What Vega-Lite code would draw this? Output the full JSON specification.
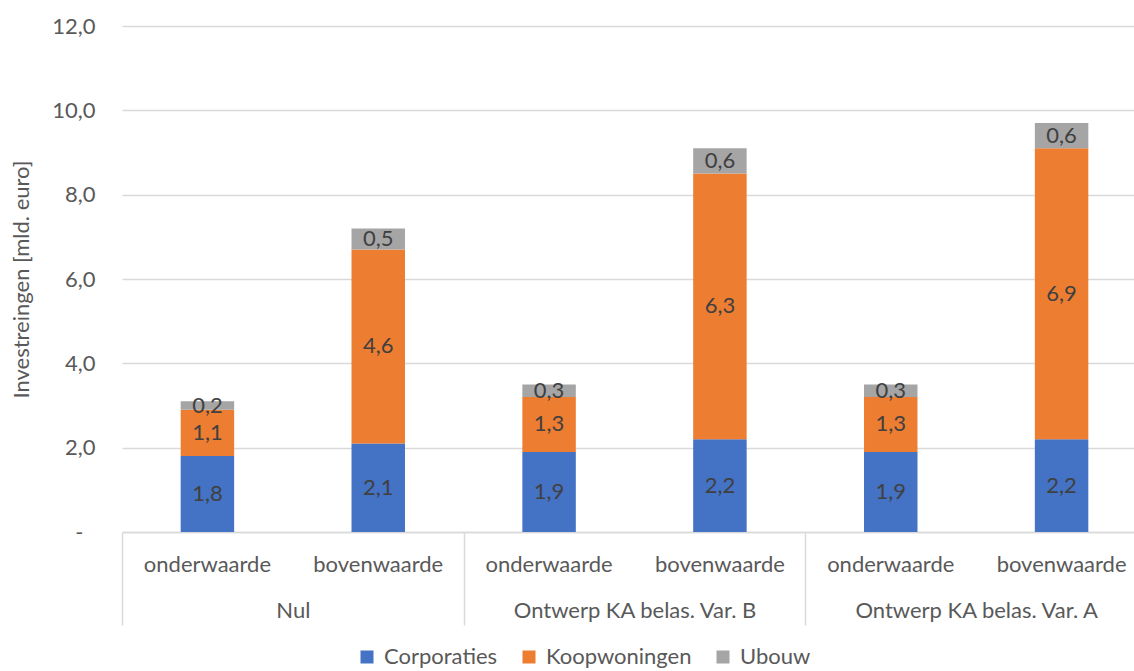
{
  "$schema": "https://vega.github.io/schema/vega-lite/v6.json",
  "autosize": {"type": "none"},
  "padding": {"left": 122, "top": 26, "right": 0, "bottom": 139},
  "width": 1012,
  "height": 506,
  "config": {
    "font": "Lato",
    "view": {"stroke": null},
    "axis": {"labelFont": "Lato", "titleFont": "Lato", "labelColor": "#595959", "titleColor": "#595959"}
  },
  "data": {
    "values": [
      {"scenario": "Nul", "waarde": "onderwaarde", "reeks": "Corporaties", "value": 1.8},
      {"scenario": "Nul", "waarde": "onderwaarde", "reeks": "Koopwoningen", "value": 1.1},
      {"scenario": "Nul", "waarde": "onderwaarde", "reeks": "Ubouw", "value": 0.2},
      {"scenario": "Nul", "waarde": "bovenwaarde", "reeks": "Corporaties", "value": 2.1},
      {"scenario": "Nul", "waarde": "bovenwaarde", "reeks": "Koopwoningen", "value": 4.6},
      {"scenario": "Nul", "waarde": "bovenwaarde", "reeks": "Ubouw", "value": 0.5},
      {"scenario": "Ontwerp KA belas. Var. B", "waarde": "onderwaarde", "reeks": "Corporaties", "value": 1.9},
      {"scenario": "Ontwerp KA belas. Var. B", "waarde": "onderwaarde", "reeks": "Koopwoningen", "value": 1.3},
      {"scenario": "Ontwerp KA belas. Var. B", "waarde": "onderwaarde", "reeks": "Ubouw", "value": 0.3},
      {"scenario": "Ontwerp KA belas. Var. B", "waarde": "bovenwaarde", "reeks": "Corporaties", "value": 2.2},
      {"scenario": "Ontwerp KA belas. Var. B", "waarde": "bovenwaarde", "reeks": "Koopwoningen", "value": 6.3},
      {"scenario": "Ontwerp KA belas. Var. B", "waarde": "bovenwaarde", "reeks": "Ubouw", "value": 0.6},
      {"scenario": "Ontwerp KA belas. Var. A", "waarde": "onderwaarde", "reeks": "Corporaties", "value": 1.9},
      {"scenario": "Ontwerp KA belas. Var. A", "waarde": "onderwaarde", "reeks": "Koopwoningen", "value": 1.3},
      {"scenario": "Ontwerp KA belas. Var. A", "waarde": "onderwaarde", "reeks": "Ubouw", "value": 0.3},
      {"scenario": "Ontwerp KA belas. Var. A", "waarde": "bovenwaarde", "reeks": "Corporaties", "value": 2.2},
      {"scenario": "Ontwerp KA belas. Var. A", "waarde": "bovenwaarde", "reeks": "Koopwoningen", "value": 6.9},
      {"scenario": "Ontwerp KA belas. Var. A", "waarde": "bovenwaarde", "reeks": "Ubouw", "value": 0.6}
    ]
  },
  "transform": [
    {"calculate": "datum.scenario + ' | ' + datum.waarde", "as": "bar"},
    {"stack": "value", "groupby": ["bar"], "sort": [{"field": "reeks", "order": "ascending"}], "as": ["v0", "v1"]},
    {"calculate": "(datum.v0 + datum.v1) / 2", "as": "mid"},
    {"calculate": "replace(format(datum.value, '.1f'), '.', ',')", "as": "label"}
  ],
  "layer": [
    {
      "layer": [
        {
          "mark": {"type": "bar"},
          "encoding": {
            "x": {
              "field": "bar", "type": "nominal", "sort": null,
              "scale": {"range": [0, 1025], "paddingInner": 0.687, "paddingOuter": 0.3435},
              "axis": {
                "title": null, "labelAngle": 0, "ticks": false,
                "domain": true, "domainColor": "#d9d9d9", "domainWidth": 1.5,
                "labelFontSize": 22, "labelPadding": 22, "labelLimit": 0,
                "labelExpr": "split(datum.label, ' | ')[1]"
              }
            },
            "y": {
              "field": "v0", "type": "quantitative",
              "scale": {"domain": [0, 12], "nice": false},
              "axis": {
                "title": "Investreingen [mld. euro]", "titleFontSize": 22, "titleFontWeight": "normal", "titlePadding": 18,
                "values": [0, 2, 4, 6, 8, 10, 12],
                "labelExpr": "datum.value === 0 ? '-' : replace(format(datum.value, '.1f'), '.', ',')",
                "labelFontSize": 22,
                "labelPadding": {"condition": {"test": "datum.value === 0", "value": 39}, "value": 27},
                "ticks": false, "domain": false,
                "grid": true, "gridColor": "#d9d9d9", "gridWidth": 1.5
              }
            },
            "y2": {"field": "v1"},
            "color": {
              "field": "reeks", "type": "nominal",
              "scale": {"domain": ["Corporaties", "Koopwoningen", "Ubouw"], "range": ["#4472C4", "#ED7D31", "#A5A5A5"]},
              "legend": {
                "title": null, "orient": "none", "direction": "horizontal",
                "legendX": 234, "legendY": 620, "padding": 0,
                "symbolType": "square", "symbolSize": 169, "symbolStrokeWidth": 0,
                "labelFontSize": 22, "labelColor": "#595959", "labelOffset": 6,
                "columnPadding": 20
              }
            }
          }
        },
        {
          "mark": {"type": "text", "fontSize": 22, "color": "#404040", "baseline": "middle"},
          "encoding": {
            "x": {"field": "bar", "type": "nominal", "sort": null},
            "y": {"field": "mid", "type": "quantitative"},
            "text": {"field": "label"}
          }
        }
      ]
    },
    {
      "mark": {"type": "point", "opacity": 0},
      "encoding": {
        "x": {
          "field": "scenario", "type": "nominal", "sort": null,
          "scale": {"range": [0, 1025], "paddingInner": 0, "paddingOuter": 0},
          "axis": {
            "title": null, "orient": "bottom", "labelAngle": 0, "domain": false,
            "tickBand": "extent", "ticks": true, "tickSize": 93, "tickColor": "#d9d9d9", "tickWidth": 1.5,
            "labelFontSize": 22, "labelPadding": -25, "labelLimit": 0
          }
        }
      }
    }
  ],
  "resolve": {"scale": {"x": "independent"}, "axis": {"x": "independent"}}
}
